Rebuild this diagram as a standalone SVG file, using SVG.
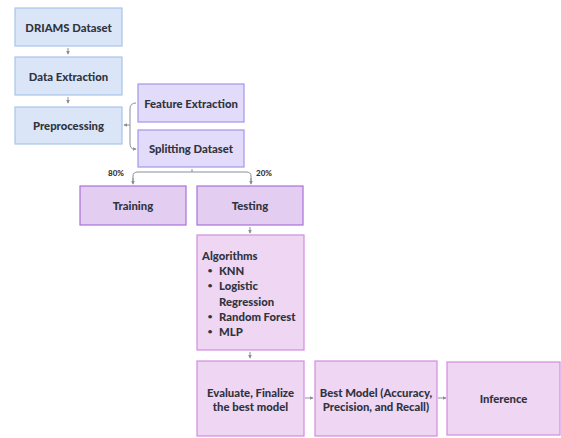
<svg xmlns="http://www.w3.org/2000/svg" width="561" height="438" viewBox="0 0 561 438">
<defs>
<style>
text{font-family:Lato,"Liberation Sans",sans-serif;font-weight:900;font-size:11.3px;fill:#30343f}
.c{text-anchor:middle;dominant-baseline:central}
.l{dominant-baseline:central}
.b{font-size:8px;text-anchor:middle}
.s{font-size:8px}
.blue{fill:#dae6f7;stroke:#a8c4ec;stroke-width:1.2}
.lav{fill:#e2dcfa;stroke:#a594ea;stroke-width:1.2}
.pur{fill:#e3cdf0;stroke:#a970d8;stroke-width:1.2}
.pink{fill:#efd6f3;stroke:#d38be0;stroke-width:1.2}
.ln{fill:none;stroke:#8a8f99;stroke-width:1}
.ar{fill:none;stroke:#8a8f99;stroke-width:1;marker-end:url(#ah)}
</style>
<marker id="ah" viewBox="0 0 6 6" refX="5" refY="3" markerWidth="4" markerHeight="4" orient="auto">
<path d="M0,0 L6,3 L0,6 z" fill="#8a8f99"/>
</marker>
</defs>
<g id="connectors">
<path class="ar" d="M68,48 V54"/>
<path class="ar" d="M68,97 V103"/>
<path class="ar" d="M130,125 H124"/>
<path class="ln" d="M136,103 Q130,103 130,109 V143 Q130,149 134,149"/>
<path class="ar" d="M133,149 H136"/>
<path class="ln" d="M192,169 V172"/>
<path class="ln" d="M133,182 V176 Q133,172 138,172 H246 Q251,172 251,176 V182"/>
<path class="ar" d="M133,178 V184"/>
<path class="ar" d="M251,178 V184"/>
<path class="ar" d="M250,227 V233"/>
<path class="ar" d="M250,352 V358"/>
<path class="ar" d="M305,398 H313"/>
<path class="ar" d="M438,398 H446"/>
<text class="c s" x="116" y="173">80%</text>
<text class="c s" x="264" y="173">20%</text>
</g>
<g id="driams"><rect class="blue" x="15" y="8" width="107" height="38"/><text class="c" x="68.5" y="27">DRIAMS Dataset</text></g>
<g id="extraction"><rect class="blue" x="15" y="57" width="107" height="38"/><text class="c" x="68.5" y="76">Data Extraction</text></g>
<g id="preprocessing"><rect class="blue" x="15" y="107" width="107" height="37"/><text class="c" x="68.5" y="125.5">Preprocessing</text></g>
<g id="feature"><rect class="lav" x="138" y="84" width="106" height="38"/><text class="c" x="191" y="103">Feature Extraction</text></g>
<g id="splitting"><rect class="lav" x="138" y="130" width="106" height="37"/><text class="c" x="191" y="148.5">Splitting Dataset</text></g>
<g id="training"><rect class="pur" x="80" y="186" width="106" height="39"/><text class="c" x="133" y="205.5">Training</text></g>
<g id="testing"><rect class="pur" x="197" y="186" width="106" height="39"/><text class="c" x="250" y="205.5">Testing</text></g>
<g id="algorithms"><rect class="pink" x="197" y="235" width="107" height="115"/>
<text class="l" x="202" y="255">Algorithms</text>
<text class="l b" x="210" y="270">•</text><text class="l" x="219" y="270">KNN</text>
<text class="l b" x="210" y="285">•</text><text class="l" x="219" y="285">Logistic</text>
<text class="l" x="219" y="301">Regression</text>
<text class="l b" x="210" y="316">•</text><text class="l" x="219" y="316">Random Forest</text>
<text class="l b" x="210" y="331">•</text><text class="l" x="219" y="331">MLP</text>
</g>
<g id="evaluate"><rect class="pink" x="197" y="361" width="107" height="75"/><text class="c" x="250.5" y="392">Evaluate, Finalize</text><text class="c" x="250.5" y="406">the best model</text></g>
<g id="bestmodel"><rect class="pink" x="315" y="361" width="122" height="75"/><text class="c" x="376" y="392">Best Model (Accuracy,</text><text class="c" x="376" y="406">Precision, and Recall)</text></g>
<g id="inference"><rect class="pink" x="447" y="362" width="113" height="73"/><text class="c" x="503.5" y="398.5">Inference</text></g>
</svg>
